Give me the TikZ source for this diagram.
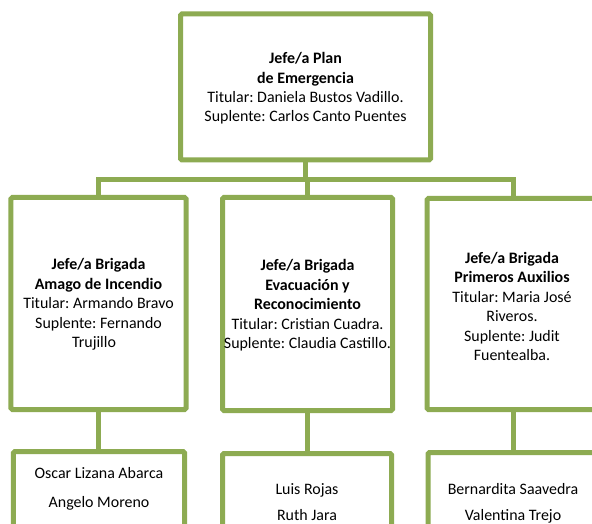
\documentclass[tikz,border=0pt]{standalone}
\usepackage{fontspec}
\setmainfont{Carlito}
\frenchspacing
\definecolor{olive}{RGB}{141,171,82}
\tikzset{
  box/.style={draw=olive, line width=5bp, fill=white, rounded corners=1.5bp, inner sep=0pt},
  conn/.style={draw=olive, line width=5bp},
  txt/.style={align=center, inner sep=0pt, font=\fontsize{16}{19.5}\selectfont},
  names/.style={align=center, inner sep=0pt, font=\fontsize{16}{26}\selectfont, anchor=north}
}
\begin{document}
\begin{tikzpicture}[x=1bp,y=-1bp]
\useasboundingbox (0,0) rectangle (592,524);
\clip (0,0) rectangle (592,524);
\coordinate (bus) at (305.5,179.5);
% boxes
\node[box, minimum width=250bp, minimum height=146bp] (top) at (305.5,87) {};
\node[box, minimum width=175bp, minimum height=212bp] (b1) at (98.5,303.5) {};
\node[box, minimum width=170bp, minimum height=213bp] (b2) at (307.5,304) {};
\node[box, minimum width=172bp, minimum height=211bp] (b3) at (513,304) {};
\node[box, minimum width=171bp, minimum height=120bp] (c1) at (99,511.5) {};
\node[box, minimum width=169bp, minimum height=120bp] (c2) at (307,513.5) {};
\node[box, minimum width=172bp, minimum height=120bp] (c3) at (514,512.5) {};
% connectors
\draw[conn] (top.south) -- (bus);
\draw[conn, line cap=rect] (b1.north) |- (bus) -| (b3.north);
\draw[conn] (b2.north) -- (b2.north |- bus);
\draw[conn] (b1.south) -- (b1.south |- c1.north);
\draw[conn] (b2.south) -- (b2.south |- c2.north);
\draw[conn] (b3.south) -- (b3.south |- c3.north);
% texts
\node[txt] (ttop) at (305.5,88.5) {\textbf{Jefe/a Plan}\\\textbf{de Emergencia}\hspace*{14bp}\\Titular: Daniela Bustos Vadillo.\\Suplente: Carlos Canto Puentes};
\node[txt] (tb1) at (98.5,304.5) {\textbf{Jefe/a Brigada}\\\textbf{Amago de Incendio}\\Titular: Armando Bravo\\Suplente: Fernando\\Trujillo\hspace*{9bp}};
\node[txt] (tb2) at (307.5,305.5) {\textbf{Jefe/a Brigada}\\\textbf{Evacuación y}\\\textbf{Reconocimiento}\\Titular: Cristian Cuadra.\\Suplente: Claudia Castillo.};
\node[txt] (tb3) at (512,306.5) {\textbf{Jefe/a Brigada}\\\textbf{Primeros Auxilios}\\Titular: Maria José\\Riveros.\\Suplente: Judit\\Fuentealba.};
\node[names, font=\fontsize{16}{29}\selectfont] (tc1) at (99,467) {Oscar Lizana Abarca\\Angelo Moreno};
\node[names] (tc2) at (307,483) {Luis Rojas\\Ruth Jara};
\node[names] (tc3) at (513,483) {Bernardita Saavedra\\Valentina Trejo};
\end{tikzpicture}
\end{document}
